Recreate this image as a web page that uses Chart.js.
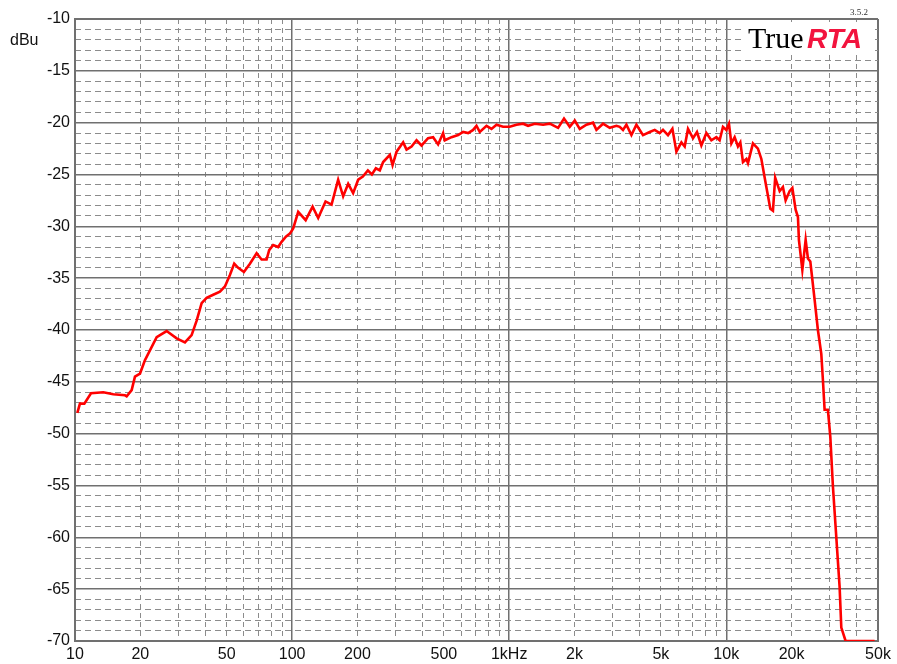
<!DOCTYPE html>
<html>
<head>
<meta charset="utf-8">
<script src="https://cdn.jsdelivr.net/npm/chart.js@4/dist/chart.umd.min.js"></script>
<style>
  body { margin: 0; background: #fff; }
  #wrap { width: 897px; height: 664px; }
</style>
</head>
<body>
<div id="wrap"><canvas id="rta" width="897" height="664"></canvas></div>
<script>
// --- data (Hz, dBu) ---
const freqs = [
  10.25, 10.54, 11.04, 11.85, 13.5, 15.01, 16.99, 17.3, 18.24, 18.89, 19.93, 21.01,
  23.78, 24.63, 26.43, 29.39, 32.1, 34.45, 36.34, 38.31, 40.4, 43.33, 46.51, 49.04,
  51.71, 54.13, 56.47, 60.0, 63.93, 68.64, 72.37, 76.3, 78.43, 81.81, 86.3, 89.47,
  93.63, 97.7, 101.2, 106.7, 115.5, 124.3, 131.9, 142.6, 152.0, 163.0, 171.9, 181.3,
  191.1, 201.6, 211.8, 223.4, 233.1, 243.2, 253.6, 262.7, 282.1, 290.3, 302.9, 324.8,
  336.7, 355.0, 374.3, 394.7, 423.2, 446.3, 470.6, 496.2, 505.2, 542.4, 581.9, 613.6,
  647.0, 682.2, 707.1, 732.3, 786.3, 829.1, 874.2, 937.6, 1006, 1080, 1159, 1222,
  1312, 1433, 1538, 1680, 1789, 1901, 2005, 2114, 2270, 2434, 2523, 2706,
  2906, 3119, 3230, 3345, 3467, 3657, 3856, 4135, 4440, 4682, 4937, 5112,
  5390, 5648, 5893, 6214, 6435, 6664, 7027, 7330, 7679, 8097, 8537, 9002,
  9322, 9656, 10011, 10290, 10555, 10930, 11320, 11610, 11940, 12380, 12590, 13270,
  13990, 14510, 15300, 15960, 16410, 16800, 17620, 18240, 18770, 19580, 20160, 20870,
  21390, 21610, 22410, 23210, 23780, 24390, 25530, 26430, 27400, 27870, 28380, 29390,
  30150, 31000, 32130, 33280, 33880, 35460, 48230
];
const levels = [
  -48.0, -47.1, -47.1, -46.1, -46.0, -46.2, -46.3, -46.4, -45.8, -44.5, -44.2, -42.9,
  -40.7, -40.5, -40.1, -40.8, -41.2, -40.5, -39.1, -37.4, -36.9, -36.6, -36.3, -35.8,
  -34.7, -33.6, -34.0, -34.4, -33.6, -32.6, -33.2, -33.2, -32.3, -31.8, -32.0, -31.5,
  -31.0, -30.7, -30.2, -28.6, -29.4, -28.1, -29.2, -27.6, -27.9, -25.5, -27.1, -25.9,
  -26.8, -25.5, -25.2, -24.6, -25.0, -24.4, -24.6, -23.8, -23.1, -24.1, -22.8, -21.9,
  -22.6, -22.3, -21.7, -22.2, -21.5, -21.4, -22.1, -21.0, -21.7, -21.4, -21.2, -20.9,
  -21.0, -20.7, -20.3, -20.9, -20.3, -20.6, -20.2, -20.4, -20.4, -20.2, -20.1, -20.3,
  -20.1, -20.2, -20.1, -20.5, -19.6, -20.4, -19.8, -20.6, -20.2, -20.0, -20.7, -20.1,
  -20.5, -20.3, -20.4, -20.7, -20.2, -21.2, -20.2, -21.2, -20.9, -20.7, -21.0, -20.7,
  -21.2, -20.6, -22.8, -21.9, -22.3, -20.6, -21.5, -20.9, -22.2, -21.0, -21.7, -21.4,
  -21.7, -20.4, -20.7, -20.1, -22.0, -21.4, -22.3, -21.9, -23.8, -23.5, -23.9, -22.0,
  -22.5, -23.5, -26.2, -28.3, -28.5, -25.3, -26.6, -26.2, -27.5, -26.6, -26.3, -28.4,
  -29.1, -31.3, -34.2, -31.3, -33.1, -33.4, -37.1, -40.0, -42.3, -44.8, -47.7, -47.7,
  -50.3, -55.1, -60.0, -64.8, -68.7, -70.0, -70.0
];
const xTickVals = [10, 20, 50, 100, 200, 500, 1000, 2000, 5000, 10000, 20000, 50000];
const xTickLabels = ["10", "20", "50", "100", "200", "500", "1kHz", "2k", "5k", "10k", "20k", "50k"];

// minor (dashed) grid positions: 2..9 of every decade
const xMinor = [];
[10, 100, 1000, 10000].forEach(d => {
  for (let m = 2; m <= 9; m++) if (d * m < 50000) xMinor.push(d * m);
});

const FONT = 'Arial, "Liberation Sans", sans-serif';
const majorColor = "#707070";
const minorColor = "#8c8c8c";

const isDecade = v => [10, 100, 1000, 10000, 50000].includes(v);

// --- logo and unit label ---
const decor = {
  id: "decor",
  afterDraw(chart) {
    const c = chart.ctx;
    c.save();
    c.fillStyle = "#fff";
    c.fillRect(743, 22, 128, 33);
    c.textBaseline = "alphabetic";
    c.fillStyle = "#000";
    c.font = '30px "Liberation Serif", "Times New Roman", serif';
    c.fillText("True", 748, 48);
    c.fillStyle = "#f2143e";
    c.font = 'italic bold 28px ' + FONT;
    c.fillText("RTA", 807, 48);
    c.fillStyle = "#333";
    c.font = '9px "Liberation Serif", serif';
    c.fillText("3.5.2", 850, 15);
    c.fillStyle = "#111";
    c.font = "16px " + FONT;
    c.textBaseline = "middle";
    c.fillText("dBu", 10, 41);
    c.restore();
  }
};

new Chart(document.getElementById("rta"), {
  type: "line",
  data: {
    datasets: [{
      data: freqs.map((f, i) => ({ x: f, y: levels[i] })),
      borderColor: "#ff0000",
      borderWidth: 2.6,
      pointRadius: 0,
      tension: 0,
      xAxisID: "x",
      yAxisID: "y"
    }]
  },
  options: {
    responsive: false,
    animation: false,
    layout: { padding: { left: 0, right: 19, top: 19, bottom: 0 } },
    plugins: { legend: { display: false }, tooltip: { enabled: false } },
    scales: {
      x: {
        type: "logarithmic",
        position: "bottom",
        min: 10,
        max: 50000,
        afterBuildTicks: s => { s.ticks = xTickVals.map(v => ({ value: v })); },
        afterFit: s => { s.height = 23; },
        ticks: {
          autoSkip: false,
          maxRotation: 0,
          padding: 4,
          color: "#111",
          font: { family: FONT, size: 16 },
          callback: (v) => xTickLabels[xTickVals.indexOf(v)]
        },
        grid: {
          drawTicks: false,
          color: ctx => isDecade(ctx.tick.value) ? majorColor : "rgba(0,0,0,0)",
          lineWidth: ctx => (ctx.tick.value === 10 || ctx.tick.value === 50000) ? 2 : 1.5
        },
        border: { display: true, color: majorColor, width: 2 }
      },
      xMinor: {
        type: "logarithmic",
        position: "bottom",
        min: 10,
        max: 50000,
        afterBuildTicks: s => { s.ticks = xMinor.map(v => ({ value: v })); },
        afterFit: s => { s.height = 0; },
        ticks: { display: false },
        grid: { drawTicks: false, color: minorColor, lineWidth: 1 },
        border: { display: false, dash: [5, 4] }
      },
      y: {
        type: "linear",
        position: "left",
        min: -70,
        max: -10,
        afterFit: s => { s.width = 75; },
        ticks: {
          stepSize: 5,
          padding: 5,
          color: "#111",
          font: { family: FONT, size: 16 }
        },
        grid: {
          drawTicks: false,
          color: majorColor,
          lineWidth: ctx => (ctx.tick.value === -10 || ctx.tick.value === -70) ? 2 : 1.5
        },
        border: { display: true, color: majorColor, width: 2 }
      },
      yMinor: {
        type: "linear",
        position: "left",
        min: -70,
        max: -10,
        afterFit: s => { s.width = 0; },
        ticks: { display: false, stepSize: 1 },
        grid: {
          drawTicks: false,
          color: ctx => ctx.tick.value % 5 === 0 ? "rgba(0,0,0,0)" : minorColor,
          lineWidth: 1
        },
        border: { display: false, dash: [6, 4] }
      }
    }
  },
  plugins: [decor]
});
</script>
</body>
</html>
